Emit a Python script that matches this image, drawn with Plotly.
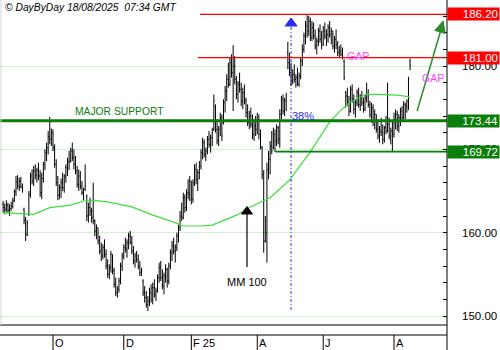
import plotly.graph_objects as go

# ---------------- data ----------------
opens = [163.4,163.0,162.8,163.3,162.7,162.9,163.2,163.8,164.9,166.1,
 165.6,166.2,165.5,162.8,161.5,159.8,162.2,164.6,166.8,166.2,
 167.4,166.9,167.5,166.8,164.8,166.5,168.2,169.6,170.2,171.5,
 171.2,172.0,170.2,168.2,166.0,164.5,165.4,166.0,165.4,166.8,
 167.8,168.5,168.6,169.8,169.0,168.2,167.4,165.8,166.8,165.6,
 164.8,165.2,164.4,162.0,163.0,162.6,161.8,161.4,160.2,160.6,
 159.0,157.8,157.2,158.2,157.4,156.0,155.0,155.8,157.4,155.4,
 153.8,152.8,153.2,154.2,156.0,157.2,158.2,158.0,158.8,159.6,
 158.8,157.8,156.6,157.2,156.8,156.0,155.2,154.2,152.8,152.2,
 151.4,151.8,152.8,152.0,153.4,152.6,153.0,154.6,155.8,154.6,
 153.6,154.8,155.6,154.2,156.0,157.6,158.4,157.8,158.2,159.6,
 160.6,162.0,161.8,164.2,163.0,164.8,164.6,166.2,164.0,166.0,
 167.6,166.4,167.2,168.0,169.6,170.8,169.4,169.8,171.2,170.6,
 171.4,172.4,175.2,172.4,171.0,172.4,173.8,173.2,175.6,177.0,
 178.4,177.8,180.4,179.2,180.0,178.4,176.6,177.8,177.2,175.8,
 176.8,175.8,174.4,173.2,174.0,173.0,171.8,172.8,172.4,173.6,
 171.8,170.2,166.8,159.0,160.0,167.6,168.8,170.4,170.2,171.8,
 171.0,172.6,171.2,174.2,176.0,174.6,175.8,181.6,180.4,179.2,
 178.2,179.0,178.4,178.6,177.8,178.8,180.6,182.0,183.6,184.8,
 184.2,185.4,183.4,184.6,183.6,182.4,183.0,184.2,183.2,182.6,
 184.2,183.6,183.8,184.6,183.8,184.2,182.4,183.2,182.6,181.6,
 181.8,181.4,180.6,176.8,176.4,175.6,174.6,177.2,176.0,174.8,
 175.6,176.8,175.4,176.2,175.6,174.8,176.2,176.6,175.4,174.2,
 175.0,173.4,174.2,172.4,171.6,172.2,172.0,171.2,172.6,172.2,
 173.0,171.6,172.2,171.8,173.6,174.2,172.8,173.8,174.6,173.8,
 175.4,175.2,175.0,180.6]

highs = [163.8,163.5,163.9,163.6,163.4,163.7,164.2,165.2,166.8,166.9,
 166.6,166.7,165.9,163.0,161.9,161.5,165.0,167.2,167.6,168.0,
 168.2,167.8,168.4,167.5,167.2,168.5,170.0,170.8,172.2,173.9,
 172.5,172.4,170.6,168.8,166.8,165.8,166.5,167.2,167.0,168.2,
 169.0,169.8,170.2,170.8,170.0,169.2,168.0,167.6,167.4,166.2,
 165.4,168.2,164.6,163.6,164.2,163.0,166.0,161.6,161.0,160.6,
 159.6,158.8,158.6,159.2,158.0,156.8,156.2,157.8,157.4,155.8,
 154.6,153.6,154.6,156.4,157.6,158.6,159.4,159.2,160.0,160.2,
 159.6,158.4,157.6,157.8,157.4,156.6,155.8,154.4,153.6,153.0,
 152.4,153.4,153.8,154.0,154.4,153.4,155.0,156.4,156.6,155.6,
 155.2,156.2,155.8,156.4,158.0,159.0,159.4,158.6,160.0,161.0,
 162.6,163.6,164.8,164.6,165.2,166.4,166.8,166.2,166.4,168.2,
 168.4,167.6,168.6,170.0,171.4,171.2,170.2,171.6,172.2,171.8,
 172.6,176.6,175.4,173.6,172.8,174.4,174.2,176.0,177.6,179.0,
 180.4,181.0,181.4,182.5,181.2,178.8,178.2,179.2,178.0,177.4,
 177.8,176.2,175.4,174.6,175.0,174.2,173.6,174.0,174.4,174.2,
 172.4,170.4,167.5,162.0,168.4,169.8,171.0,172.2,172.6,172.4,
 173.0,172.8,174.8,176.4,176.6,176.2,176.8,182.9,181.6,180.4,
 179.6,180.2,179.0,179.8,179.2,181.0,182.6,184.0,185.4,186.1,
 186.0,185.8,185.4,185.2,184.4,183.4,184.6,185.0,184.2,184.8,
 185.2,184.4,185.0,185.4,184.6,184.2,183.6,184.4,183.0,182.4,
 182.6,182.2,180.8,177.0,177.4,176.4,177.6,177.8,176.6,176.0,
 177.2,177.4,176.6,177.0,176.2,176.6,178.0,177.2,175.8,175.6,
 175.4,174.8,174.2,173.6,172.8,173.8,173.0,172.8,174.0,178.0,
 173.8,172.6,173.4,174.4,174.8,174.6,174.2,175.0,175.2,175.8,
 175.6,176.0,178.7,180.9]

lows = [162.4,162.2,162.5,162.3,162.0,162.6,162.9,163.7,164.4,165.2,
 165.0,165.3,164.8,161.0,159.0,159.6,162.0,164.2,165.8,165.6,
 166.4,166.0,166.3,164.3,164.0,166.0,167.5,168.6,169.4,170.6,
 170.4,169.8,167.8,165.6,163.9,164.0,164.2,165.0,164.8,166.0,
 166.8,167.5,168.4,168.6,167.6,167.0,165.4,165.0,165.2,164.5,
 163.9,165.0,161.4,161.2,162.0,161.2,161.0,159.6,159.2,158.6,
 157.4,156.6,156.8,157.0,155.6,154.6,154.4,155.2,155.0,153.4,
 152.4,152.2,152.8,153.8,155.4,156.8,157.6,157.0,158.0,158.6,
 157.4,156.2,155.8,156.4,155.6,154.8,154.8,152.4,151.6,151.0,
 150.6,151.2,151.6,151.4,152.2,151.8,152.8,154.0,154.2,153.2,
 152.6,154.0,153.4,153.8,155.6,156.6,157.4,156.4,157.8,158.8,
 160.2,161.4,161.6,162.4,162.6,164.0,163.8,163.4,163.6,165.6,
 165.8,165.0,166.4,167.6,168.8,169.0,168.6,169.4,170.2,169.6,
 170.4,172.2,172.0,170.6,170.4,171.6,171.0,173.0,174.4,175.8,
 177.4,177.6,178.6,174.6,177.8,176.0,175.6,176.8,175.2,174.8,
 175.4,173.8,172.8,172.4,172.6,171.2,171.0,171.6,171.8,171.2,
 170.0,166.4,157.6,158.8,156.4,166.4,167.0,169.4,170.0,169.7,
 170.4,170.6,170.2,173.6,174.2,174.0,174.6,179.6,178.8,177.6,
 177.8,178.0,177.4,177.6,177.5,178.4,180.0,181.6,182.6,183.4,
 183.6,183.0,183.0,183.2,182.0,181.4,182.4,182.8,182.0,182.4,
 183.2,182.4,182.8,183.4,182.6,182.0,181.6,182.0,181.2,181.0,
 181.2,180.8,178.3,175.0,175.2,174.0,174.4,175.6,174.2,173.8,
 175.2,175.0,174.6,175.2,174.4,174.6,175.6,175.0,173.8,173.2,
 172.8,172.4,172.0,171.2,170.8,171.6,170.6,170.8,171.8,172.0,
 171.2,170.6,169.7,171.4,172.4,172.2,172.0,172.8,173.4,173.6,
 173.6,174.4,174.7,179.5]

closes = [163.0,162.8,163.3,162.7,162.9,163.2,163.8,164.9,166.1,165.6,
 166.2,165.5,165.2,161.5,159.8,161.2,164.6,166.8,166.2,167.4,
 166.9,167.5,166.8,164.8,166.5,168.2,169.6,170.2,171.5,171.2,
 172.0,170.2,168.2,166.0,164.5,165.4,166.0,165.4,166.8,167.8,
 168.5,168.6,169.8,169.0,168.2,167.4,165.8,166.8,165.6,164.8,
 164.2,165.6,162.0,163.0,162.6,161.8,161.4,160.2,160.6,159.0,
 157.8,157.2,158.2,157.4,156.0,155.0,155.8,157.4,155.4,153.8,
 152.8,153.2,154.2,156.0,157.2,158.2,158.0,158.8,159.6,158.8,
 157.8,156.6,157.2,156.8,156.0,155.2,155.4,152.8,152.2,151.4,
 151.8,152.8,152.0,153.4,152.6,153.0,154.6,155.8,154.6,153.6,
 154.8,155.6,154.2,156.0,157.6,158.4,157.8,158.2,159.6,160.6,
 162.0,161.8,164.2,163.0,164.8,164.6,166.2,164.0,166.0,167.6,
 166.4,167.2,168.0,169.6,170.8,169.4,169.8,171.2,170.6,171.4,
 172.0,175.8,172.4,171.0,172.4,173.8,171.6,175.6,177.0,178.4,
 177.8,180.4,179.2,180.0,178.4,176.6,177.8,177.2,175.8,176.8,
 175.8,174.4,173.2,174.0,173.0,171.8,172.8,172.4,173.6,171.8,
 170.4,167.0,159.0,161.4,167.6,168.8,170.4,169.8,171.8,171.0,
 172.6,171.2,174.2,176.0,174.6,175.8,176.4,180.4,179.2,178.2,
 179.0,178.4,178.6,177.8,178.8,180.6,182.0,183.6,184.8,184.2,
 185.4,183.4,184.6,183.6,182.4,183.0,184.2,183.2,182.6,184.2,
 183.6,183.8,184.6,183.8,184.2,182.4,183.2,182.6,181.6,181.8,
 181.4,181.2,178.6,176.4,175.6,174.6,177.2,176.0,174.8,175.6,
 176.8,175.4,176.2,175.6,174.8,176.2,176.6,175.4,174.2,175.0,
 173.4,174.2,172.4,171.6,172.2,172.0,171.2,172.6,172.2,173.0,
 171.6,172.2,171.8,173.6,174.2,172.8,173.8,174.6,173.8,175.4,
 175.2,175.8,178.4,180.1]

# 100-day moving average (MM 100), sampled along the curve
ma_idx = [0, 19, 29, 42, 50, 55, 65, 80, 93, 101, 107, 112, 122, 130, 145,
          154, 160, 166, 178, 191, 203, 210, 216, 226, 234, 245, 253]
ma_val = [162.4, 162.2, 163.0, 163.3, 163.8, 163.9, 163.7, 163.1, 162.1, 161.6,
          161.2, 160.8, 160.8, 160.9, 162.1, 163.1, 163.7, 164.2, 166.3, 169.7,
          173.3, 174.7, 175.7, 176.6, 176.6, 176.5, 176.3]

month_idx = [31, 75, 117, 158, 199, 243]
month_lbl = ["O", "D", "F 25", "A", "J", "A"]

level_vals = [186.20, 181.00, 173.44, 169.72]
level_lbls = ["186.20", "181.00", "173.44", "169.72"]
level_cols = ["#ff0000", "#ff0000", "#0b7d0b", "#0b7d0b"]
level_start = [122.4, 121.2, -1.95, 169.1]
level_width = [1.2, 1.2, 3, 1.8]

# ---------------- layout helpers ----------------
W, H = 500, 350
PR = 447            # right edge of plot area (px)
PB = 325            # bottom of price area (px)
XLO, XHI = -1.95, 275.95
YLO, YHI = 148.92, 187.92
FONT = "Liberation Sans, Arial, sans-serif"

def py(ypx):
    return 1 - ypx / H

x_idx = list(range(len(closes)))

fig = go.Figure()
fig.add_trace(go.Ohlc(
    x=x_idx, open=opens, high=highs, low=lows, close=closes,
    increasing=dict(line=dict(color="black", width=1)),
    decreasing=dict(line=dict(color="black", width=1)),
    tickwidth=0.45, hoverinfo="skip", showlegend=False))

fig.add_trace(go.Scatter(
    x=ma_idx, y=ma_val, mode="lines", line=dict(color="#3ce03c", width=1.2),
    hoverinfo="skip", showlegend=False))

shapes = []
for v, c, s, w in zip(level_vals, level_cols, level_start, level_width):
    shapes.append(dict(type="line", xref="x", yref="y", x0=s, x1=XHI, y0=v, y1=v,
                       line=dict(color=c, width=w), layer="above"))
shapes.append(dict(type="line", xref="paper", yref="paper", x0=PR / W, x1=PR / W,
                   y0=0, y1=1, line=dict(color="black", width=1)))
for ypx in (PB, 335):
    shapes.append(dict(type="line", xref="paper", yref="paper", x0=0, x1=PR / W,
                       y0=py(ypx), y1=py(ypx), line=dict(color="black", width=1)))
shapes.append(dict(type="line", xref="paper", yref="paper", x0=0.002, x1=0.002,
                   y0=py(PB), y1=1, line=dict(color="#d4d4d4", width=1)))
for m in month_idx:
    shapes.append(dict(type="line", xref="x", yref="paper", x0=m, x1=m,
                       y0=0, y1=py(335), line=dict(color="black", width=1)))
shapes.append(dict(type="line", xref="x", yref="y", x0=179.0, x1=179.0,
                   y0=150.72, y1=184.8,
                   line=dict(color="#2a2af0", width=1, dash="3px,2px,1px,2px")))
shapes.append(dict(type="path", xref="x", yref="y", xsizemode="pixel", ysizemode="pixel",
                   xanchor=179.0, yanchor=184.8, path="M -6,0 L 6,0 L 0,8 Z",
                   fillcolor="#2a2af0", line=dict(color="#2a2af0", width=1)))
shapes.append(dict(type="line", xref="x", yref="y", x0=151.6, x1=151.6,
                   y0=155.88, y1=162.24, line=dict(color="black", width=1.2)))
shapes.append(dict(type="path", xref="x", yref="y", xsizemode="pixel", ysizemode="pixel",
                   xanchor=151.6, yanchor=162.24, path="M -5.5,0 L 5.5,0 L 0,7.5 Z",
                   fillcolor="black", line=dict(color="black", width=1)))
shapes.append(dict(type="line", xref="x", yref="y", x0=257.4, x1=273.0,
                   y0=174.6, y1=184.9, line=dict(color="#2e8b2e", width=1.5)))
shapes.append(dict(type="path", xref="x", yref="y", xsizemode="pixel", ysizemode="pixel",
                   xanchor=273.5, yanchor=185.4,
                   path="M 0,0 L 2.2,-12.5 L -8.3,-9.4 Z",
                   fillcolor="#2e8b2e", line=dict(color="#2e8b2e", width=1)))

ann = []
for v, t, c in zip(level_vals, level_lbls, level_cols):
    ann.append(dict(xref="paper", yref="y", x=1, y=v, xanchor="right", yanchor="middle",
                    text=t, showarrow=False, bgcolor=c, width=49, height=10,
                    borderpad=1, align="right",
                    font=dict(family=FONT, size=11.5, color="white")))
for m, t in zip(month_idx, month_lbl):
    ann.append(dict(xref="x", yref="paper", x=m, y=py(343), xanchor="left",
                    yanchor="middle", xshift=0, text=t, showarrow=False,
                    font=dict(family=FONT, size=11, color="black")))
ann += [
    dict(xref="paper", yref="paper", x=3 / W, y=py(7), xanchor="left", yanchor="middle",
         text="© DayByDay 18/08/2025\u00a0\u00a007:34 GMT", showarrow=False,
         font=dict(family=FONT, size=10.3, color="black", style="italic")),
    dict(xref="x", yref="y", x=43.5, y=174.5, xanchor="left", yanchor="middle",
         text="MAJOR SUPPORT", showarrow=False,
         font=dict(family=FONT, size=10.3, color="#0b7d0b")),
    dict(xref="x", yref="y", x=212.6, y=181.2, xanchor="left", yanchor="middle",
         text="GAP", showarrow=False, font=dict(family=FONT, size=10.5, color="#ff44ff")),
    dict(xref="x", yref="y", x=259.2, y=178.56, xanchor="left", yanchor="middle",
         text="GAP", showarrow=False, font=dict(family=FONT, size=10.5, color="#ff44ff")),
    dict(xref="x", yref="y", x=178.5, y=174.0, xanchor="left", yanchor="middle",
         text="38%", showarrow=False, font=dict(family=FONT, size=11, color="#2a2af0")),
    dict(xref="x", yref="y", x=151.6, y=154.08, xanchor="center", yanchor="middle",
         text="MM 100", showarrow=False, font=dict(family=FONT, size=11, color="black")),
]

fig.update_layout(
    width=W, height=H, margin=dict(l=0, r=0, t=0, b=0),
    paper_bgcolor="white", plot_bgcolor="white",
    showlegend=False, shapes=shapes, annotations=ann,
    xaxis=dict(domain=[0, PR / W], range=[XLO, XHI], showticklabels=False,
               showgrid=False, zeroline=False, showline=False, ticks="",
               rangeslider=dict(visible=False), fixedrange=True),
    yaxis=dict(domain=[1 - PB / H, 1], range=[YLO, YHI], side="right",
               tick0=150, dtick=10, tickformat=".2f", ticks="inside", ticklen=4,
               tickcolor="black", showgrid=True, gridcolor="#cdf3cd", gridwidth=1,
               zeroline=False, showline=False, ticklabelstandoff=14,
               tickfont=dict(family=FONT, size=11.5, color="black"),
               minor=dict(dtick=2, tick0=150, ticks="inside", ticklen=4,
                          tickcolor="black", showgrid=False),
               fixedrange=True),
)

fig.write_html("out.html")
